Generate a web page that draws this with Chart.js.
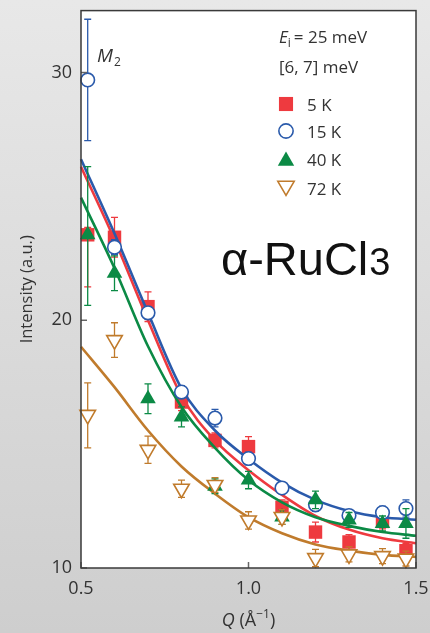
<!DOCTYPE html>
<html>
<head>
<meta charset="utf-8">
<script src="https://cdn.jsdelivr.net/npm/chart.js@4.4.1/dist/chart.umd.min.js"></script>
<style>
  html, body { margin: 0; padding: 0; }
  body {
    width: 430px; height: 633px; overflow: hidden;
    background: linear-gradient(180deg, #e8e8e8 0%, #dbdbdb 50%, #cecece 100%);
  }
  #wrap { position: relative; width: 430px; height: 633px; }
</style>
</head>
<body>
<div id="wrap"><canvas id="chart" width="430" height="633"></canvas></div>
<script>
// Measured momentum transfers Q (Å^-1)
const qData = [0.52, 0.6, 0.7, 0.8, 0.9, 1.0, 1.1, 1.2, 1.3, 1.4, 1.47];

// Integrated intensity in the [6, 7] meV window, with lower / upper error bars
const int5K     = [23.45, 23.35, 20.55, 16.70, 15.15, 14.90, 12.45, 11.45, 11.05, 11.88, 10.70];
const err5Klo   = [2.10, 0.80, 0.60, 0.35, 0.30, 0.40, 0.30, 0.40, 0.30, 0.30, 0.30];
const err5Khi   = [0.30, 0.80, 0.60, 0.35, 0.30, 0.40, 0.30, 0.40, 0.30, 0.30, 0.30];

const int15K    = [29.70, 22.95, 20.30, 17.10, 16.05, 14.42, 13.23, 12.55, 12.12, 12.24, 12.40];
const err15Klo  = [2.45, 0.30, 0.25, 0.25, 0.35, 0.25, 0.20, 0.25, 0.20, 0.25, 0.35];
const err15Khi  = [2.45, 0.30, 0.25, 0.25, 0.35, 0.25, 0.20, 0.25, 0.20, 0.25, 0.35];

const int40K    = [23.45, 21.90, 16.83, 16.10, 13.30, 13.55, 12.06, 12.75, 11.94, 11.80, 11.80];
const err40Klo  = [2.85, 0.70, 0.60, 0.40, 0.30, 0.35, 0.30, 0.35, 0.30, 0.30, 0.60];
const err40Khi  = [2.75, 0.70, 0.60, 0.40, 0.30, 0.35, 0.30, 0.35, 0.30, 0.30, 0.60];

const int72K    = [16.18, 19.20, 14.77, 13.20, 13.35, 11.92, 12.06, 10.40, 10.55, 10.48, 10.38];
const err72Klo  = [1.33, 0.70, 0.55, 0.35, 0.30, 0.35, 0.30, 0.35, 0.30, 0.30, 0.30];
const err72Khi  = [1.29, 0.70, 0.55, 0.35, 0.30, 0.35, 0.30, 0.35, 0.30, 0.30, 0.30];

// Magnetic form-factor fits, sampled on a regular Q grid
const qFit   = [0.5, 0.6, 0.7, 0.8, 0.9, 1.0, 1.1, 1.2, 1.3, 1.4, 1.5];
const fit5K  = [26.20, 23.25, 20.00, 16.95, 15.15, 13.95, 12.95, 12.10, 11.55, 11.20, 11.00];
const fit15K = [26.50, 23.50, 20.30, 17.25, 15.55, 14.40, 13.45, 12.75, 12.30, 12.05, 11.95];
const fit40K = [24.95, 22.10, 18.95, 16.50, 14.85, 13.55, 12.65, 12.05, 11.70, 11.45, 11.30];
const fit72K = [18.93, 17.30, 15.55, 14.10, 13.00, 12.05, 11.40, 10.95, 10.70, 10.53, 10.45];

// Axis ticks
const xTicks = [0.5, 1.0, 1.5];
const yTicks = [10, 20, 30];

const FONT = '"Open Sans", "DejaVu Sans", sans-serif';
const TEXT = '#333333';

const RED = '#ee3a3f', BLUE = '#2a5aab', GREEN = '#0b8a45', ORANGE = '#c07b2c';

const pts = (xs, ys) => xs.map((x, i) => ({ x, y: ys[i] }));

function drawMarker(ctx, ds, x, y, scale) {
  const r = ds.pointRadius * (scale || 1);
  ctx.save();
  ctx.fillStyle = ds.pointBackgroundColor;
  ctx.strokeStyle = ds.pointBorderColor;
  ctx.lineWidth = ds.pointBorderWidth;
  ctx.lineJoin = 'miter';
  ctx.beginPath();
  if (ds.pointStyle === 'rect') {
    const s = Math.SQRT1_2 * r;
    ctx.rect(x - s, y - s, 2 * s, 2 * s);
  } else if (ds.pointStyle === 'circle') {
    ctx.arc(x, y, r, 0, Math.PI * 2);
  } else {
    let a = (ds.pointRotation || 0) * Math.PI / 180;
    for (let k = 0; k < 3; k++) {
      const px = x + Math.sin(a) * r, py = y - Math.cos(a) * r;
      if (k) ctx.lineTo(px, py); else ctx.moveTo(px, py);
      a += 2 * Math.PI / 3;
    }
    ctx.closePath();
  }
  ctx.fill();
  if (ds.pointBorderWidth > 0) ctx.stroke();
  ctx.restore();
}

// White plot panel behind the data
const panelPlugin = {
  id: 'panel',
  beforeDraw(chart) {
    const { ctx, chartArea: a } = chart;
    ctx.save();
    ctx.fillStyle = '#ffffff';
    ctx.fillRect(a.left, a.top, a.right - a.left, a.bottom - a.top);
    ctx.restore();
  }
};

// Vertical error bars with caps, drawn just beneath each marker set
const errorBarPlugin = {
  id: 'errorBars',
  beforeDatasetDraw(chart, args) {
    const ds = chart.data.datasets[args.index];
    if (!ds.errLow) return;
    const { ctx, scales: { x: xs, y: ys } } = chart;
    ctx.save();
    ctx.strokeStyle = ds.pointBorderColor === '#ffffff' ? ds.pointBackgroundColor : ds.pointBorderColor;
    ctx.lineWidth = 1.3;
    ds.data.forEach((p, i) => {
      const px = xs.getPixelForValue(p.x);
      const yHi = ys.getPixelForValue(p.y + ds.errHigh[i]);
      const yLo = ys.getPixelForValue(p.y - ds.errLow[i]);
      ctx.beginPath();
      ctx.moveTo(px, yHi); ctx.lineTo(px, yLo);
      ctx.moveTo(px - 3.5, yHi); ctx.lineTo(px + 3.5, yHi);
      ctx.moveTo(px - 3.5, yLo); ctx.lineTo(px + 3.5, yLo);
      ctx.stroke();
    });
    ctx.restore();
  }
};

// Frame, inward ticks, annotations, legend and x-axis title
const decorPlugin = {
  id: 'decor',
  afterDraw(chart) {
    const { ctx, chartArea: a, scales: { x: xs, y: ys } } = chart;
    ctx.save();

    // inward tick marks
    ctx.strokeStyle = '#666666';
    ctx.lineWidth = 1.5;
    yTicks.forEach(v => {
      const py = ys.getPixelForValue(v);
      ctx.beginPath(); ctx.moveTo(a.left, py); ctx.lineTo(a.left + 6, py); ctx.stroke();
    });
    xTicks.forEach(v => {
      const px = xs.getPixelForValue(v);
      ctx.beginPath(); ctx.moveTo(px, a.bottom); ctx.lineTo(px, a.bottom - 6); ctx.stroke();
    });

    // frame
    ctx.strokeStyle = '#3a3a3a';
    ctx.lineWidth = 1.5;
    ctx.strokeRect(a.left, a.top, a.right - a.left, a.bottom - a.top);

    ctx.fillStyle = TEXT;
    ctx.textBaseline = 'alphabetic';
    ctx.textAlign = 'left';

    // M2 point label
    ctx.font = 'italic 19px ' + FONT;
    ctx.fillText('M', 97, 62);
    const mw = ctx.measureText('M').width;
    ctx.font = '12px ' + FONT;
    ctx.fillText('2', 97 + mw + 1, 66);

    // incident energy and energy window
    let hx = 279;
    ctx.font = 'italic 17px ' + FONT;
    ctx.fillText('E', hx, 43);
    hx += ctx.measureText('E').width;
    ctx.font = '12px ' + FONT;
    ctx.fillText('i', hx, 47);
    hx += ctx.measureText('i').width + 3;
    ctx.font = '17px ' + FONT;
    ctx.fillText('= 25 meV', hx, 43);
    ctx.fillText('[6, 7] meV', 279, 73);

    // legend
    const legendY = [104, 131, 159, 188];
    const byLabel = {};
    chart.data.datasets.filter(d => d.errLow).forEach(d => { byLabel[d.label] = d; });
    ['5 K', '15 K', '40 K', '72 K'].forEach((lab, i) => {
      const d = byLabel[lab];
      const my = d.pointStyle === 'triangle' ? legendY[i] + (d.pointRotation ? -2 : 2) : legendY[i];
      drawMarker(ctx, d, 286, my, 1.05);
      ctx.fillStyle = TEXT;
      ctx.font = '17px ' + FONT;
      ctx.fillText(lab, 307, legendY[i] + 6.5);
    });

    // compound name
    ctx.fillStyle = '#111111';
    ctx.font = '47px "Liberation Sans", Arial, sans-serif';
    ctx.fillText('α-RuCl', 221, 275);
    const w = ctx.measureText('α-RuCl').width;
    ctx.font = '38px "Liberation Sans", Arial, sans-serif';
    ctx.fillText('3', 221 + w + 1, 275);

    // x-axis title: Q (Å^-1)
    ctx.fillStyle = TEXT;
    const parts = [
      { t: 'Q', f: 'italic 18px ' + FONT, dy: 0 },
      { t: ' (Å', f: '18px ' + FONT, dy: 0 },
      { t: '−1', f: '12px ' + FONT, dy: -8 },
      { t: ')', f: '18px ' + FONT, dy: 0 }
    ];
    let total = 0;
    parts.forEach(p => { ctx.font = p.f; p.w = ctx.measureText(p.t).width; total += p.w; });
    let tx = (a.left + a.right) / 2 - total / 2;
    parts.forEach(p => { ctx.font = p.f; ctx.fillText(p.t, tx, 626 + p.dy); tx += p.w; });

    ctx.restore();
  }
};

const markerSet = (label, ys, lo, hi, style, fill, stroke, radius, rot, order) => ({
  type: 'scatter',
  label,
  data: pts(qData, ys),
  errLow: lo,
  errHigh: hi,
  pointStyle: style,
  pointRotation: rot,
  pointRadius: radius,
  pointHoverRadius: radius,
  pointBackgroundColor: fill,
  pointBorderColor: stroke,
  pointBorderWidth: stroke === fill ? 0 : 1.6,
  showLine: false,
  order
});

const fitLine = (label, ys, color, order) => ({
  type: 'line',
  label,
  data: pts(qFit, ys),
  borderColor: color,
  borderWidth: 2.6,
  pointRadius: 0,
  fill: false,
  cubicInterpolationMode: 'monotone',
  order
});

// keep the plot frame where the layout puts it, without edge-label padding
const noEdgePadding = s => {
  s.paddingTop = 0; s.paddingBottom = 0; s.paddingLeft = 0; s.paddingRight = 0;
};

new Chart(document.getElementById('chart'), {
  data: {
    datasets: [
      markerSet('5 K', int5K, err5Klo, err5Khi, 'rect', RED, RED, 9.5, 0, 9),
      fitLine('fit 5 K', fit5K, RED, 8),
      fitLine('fit 40 K', fit40K, GREEN, 7),
      fitLine('fit 72 K', fit72K, ORANGE, 6),
      fitLine('fit 15 K', fit15K, BLUE, 5),
      markerSet('15 K', int15K, err15Klo, err15Khi, 'circle', '#ffffff', BLUE, 6.8, 0, 4),
      markerSet('40 K', int40K, err40Klo, err40Khi, 'triangle', GREEN, GREEN, 9, 0, 3),
      markerSet('72 K', int72K, err72Klo, err72Khi, 'triangle', '#ffffff', ORANGE, 9, 180, 2)
    ]
  },
  options: {
    responsive: false,
    animation: false,
    clip: false,
    layout: { padding: { left: 0, right: 14, top: 10, bottom: 0 } },
    plugins: { legend: { display: false }, tooltip: { enabled: false } },
    scales: {
      x: {
        type: 'linear',
        min: 0.5, max: 1.5,
        grid: { display: false, drawTicks: false },
        border: { display: false },
        afterBuildTicks: s => { s.ticks = xTicks.map(v => ({ value: v })); },
        afterFit: s => { s.height = 65; noEdgePadding(s); },
        ticks: {
          color: TEXT, padding: 10,
          font: { family: FONT, size: 18 },
          callback: v => v.toFixed(1),
          maxRotation: 0
        }
      },
      y: {
        type: 'linear',
        min: 10, max: 32.5,
        grid: { display: false, drawTicks: false },
        border: { display: false },
        afterBuildTicks: s => { s.ticks = yTicks.map(v => ({ value: v })); },
        afterFit: s => { s.width = 81; noEdgePadding(s); },
        ticks: {
          color: TEXT, padding: 9,
          font: { family: FONT, size: 18 }
        },
        title: {
          display: true,
          text: 'Intensity (a.u.)',
          color: TEXT,
          font: { family: FONT, size: 16.5 },
          padding: { top: 17, bottom: 0 }
        }
      }
    }
  },
  plugins: [panelPlugin, errorBarPlugin, decorPlugin]
});
</script>
</body>
</html>
